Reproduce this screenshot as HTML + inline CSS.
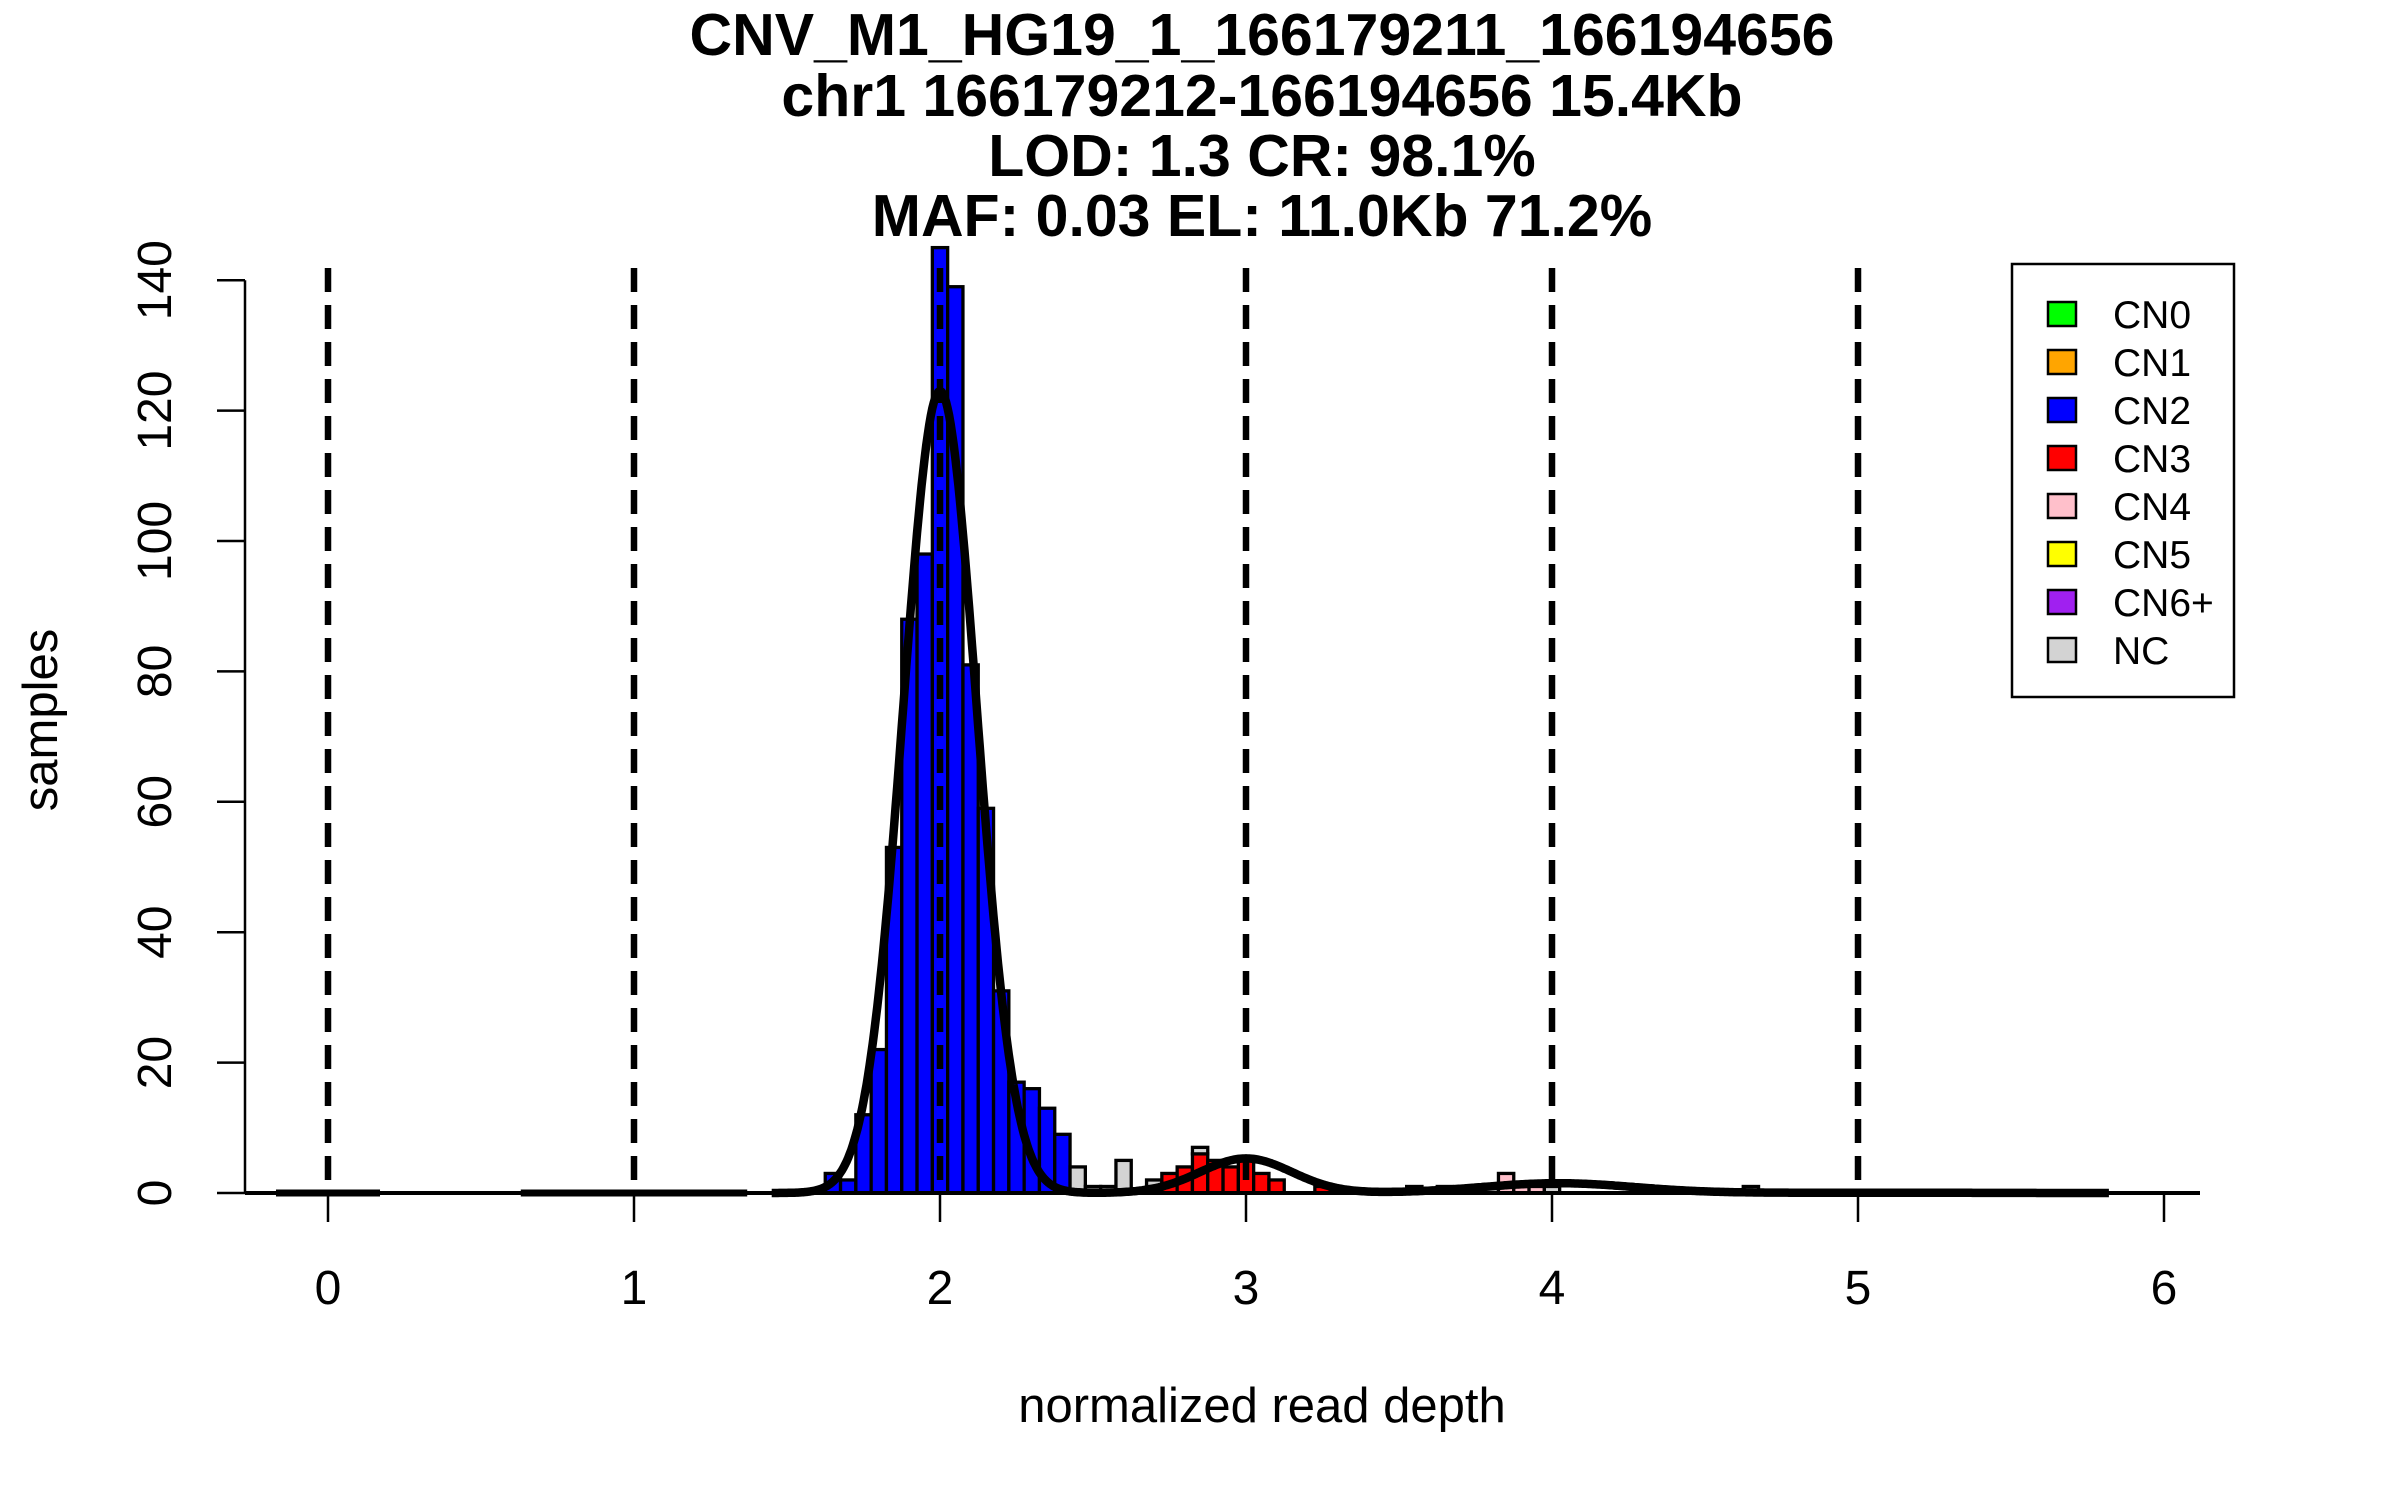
<!DOCTYPE html>
<html><head><meta charset="utf-8">
<style>
html,body{margin:0;padding:0;background:#fff;}
svg{display:block;font-family:"Liberation Sans",Arial,sans-serif;}
</style></head>
<body>
<svg id="chart" width="2400" height="1500" viewBox="0 0 2400 1500">
  <g font-weight="bold" font-size="59" text-anchor="middle" fill="#000">
    <text x="1262" y="55">CNV_M1_HG19_1_166179211_166194656</text>
    <text x="1262" y="116">chr1 166179212-166194656 15.4Kb</text>
    <text x="1262" y="176">LOD: 1.3 CR: 98.1%</text>
    <text x="1262" y="236">MAF: 0.03 EL: 11.0Kb 71.2%</text>
  </g>
  <g id="bars"></g>
  <g id="curves"></g>
  <g id="vlines"></g>
  <g id="axes"></g>
  <text x="1262" y="1422" font-size="49" text-anchor="middle">normalized read depth</text>
  <text transform="translate(57,720) rotate(-90)" font-size="49" text-anchor="middle">samples</text>
  <g>
    <rect x="2012" y="264" width="222" height="433" fill="#fff" stroke="#000" stroke-width="2.5"/>
    <g id="legend-items"></g>
  </g>
</svg>
<script>
// ---- data ----
const binLefts = [1.625,1.675,1.725,1.775,1.825,1.875,1.925,1.975,2.025,2.075,2.125,2.175,2.225,2.275,2.325,2.375,2.425,2.475,2.525,2.575,2.675,2.725,2.775,2.825,2.875,2.925,2.975,3.025,3.075,3.225,3.525,3.625,3.725,3.775,3.825,3.875,3.925,3.975,4.625];
const cn2Counts = [3,2,12,22,53,88,98,145,139,81,59,31,17,16,13,9,0,0,0,0,0,0,0,0,0,0,0,0,0,0,0,0,0,0,0,0,0,0,0];
const cn3Counts = [0,0,0,0,0,0,0,0,0,0,0,0,0,0,0,0,0,0,0,0,1,3,4,6,5,4,5,3,2,1,0,0,0,0,0,0,0,0,0];
const cn4Counts = [0,0,0,0,0,0,0,0,0,0,0,0,0,0,0,0,0,0,0,0,0,0,0,0,0,0,0,0,0,0,0,0,0,0,3,1,1,0,0];
const ncCounts  = [0,0,0,0,0,0,0,0,0,0,0,0,0,0,0,0,4,1,1,5,1,0,0,1,0,0,0,0,0,0,1,1,1,1,0,0,0,1,1];
const binWidth = 0.05;
const curveMeans = [2.0,3.0,4.02,5.0];
const curvePeaks = [123,5.3,1.5,0.05];
const curveSds = [0.12,0.15,0.25,0.3];
const flatCurveRanges = [[-0.17,0.17],[0.63,1.37]];
const mainCurveRange = [1.45,5.82];
const xTicks = [0,1,2,3,4,5,6];
const yTicks = [0,20,40,60,80,100,120,140];
const refLines = [0,1,2,3,4,5];
const legendLabels = ["CN0","CN1","CN2","CN3","CN4","CN5","CN6+","NC"];
const legendColors = ["#00ff00","#ffa500","#0000ff","#ff0000","#ffc0cb","#ffff00","#a020f0","#d3d3d3"];

// ---- scales ----
const X = v => 328 + 306*v;
const Y = c => 1193 - 6.52*c;
const NS = "http://www.w3.org/2000/svg";
function mk(tag, attrs, parent){const e=document.createElementNS(NS,tag);for(const k in attrs)e.setAttribute(k,attrs[k]);parent.appendChild(e);return e;}

// bars
const barsG = document.getElementById('bars');
binLefts.forEach((b,i)=>{
  let base = 0;
  const parts = [[cn2Counts[i],'#0000ff','cn2'],[cn3Counts[i],'#ff0000','cn3'],[cn4Counts[i],'#ffc0cb','cn4'],[ncCounts[i],'#d3d3d3','nc']];
  parts.forEach(p=>{
    if(p[0]>0){
      const r = mk('rect',{x:X(b),y:Y(base+p[0]),width:X(b+binWidth)-X(b),height:Y(base)-Y(base+p[0]),fill:p[1],stroke:'#000','stroke-width':3.3},barsG);
      
      
      base += p[0];
    }
  });
});

// curves
const curvesG = document.getElementById('curves');
flatCurveRanges.forEach(rg=>{
  const l = mk('line',{x1:X(rg[0]),y1:Y(0),x2:X(rg[1]),y2:Y(0),stroke:'#000','stroke-width':7},curvesG);
  
  
});
let pts=[];
for(let v=mainCurveRange[0]; v<=mainCurveRange[1]+1e-9; v+=0.005){
  let s=0;
  for(let k=0;k<curveMeans.length;k++){s+=curvePeaks[k]*Math.exp(-0.5*Math.pow((v-curveMeans[k])/curveSds[k],2));}
  pts.push(X(v).toFixed(1)+','+Y(s).toFixed(1));
}
const pl = mk('polyline',{points:pts.join(' '),fill:'none',stroke:'#000','stroke-width':8.5,'stroke-linejoin':'round'},curvesG);



// reference dashed lines
const vG = document.getElementById('vlines');
refLines.forEach(v=>{
  const l = mk('line',{x1:X(v),y1:268,x2:X(v),y2:Y(0),stroke:'#000','stroke-width':6.5,'stroke-dasharray':'24 13'},vG);
  
  
});

// axes
const aG = document.getElementById('axes');
const xa = mk('line',{x1:245,y1:Y(0),x2:2200,y2:Y(0),stroke:'#000','stroke-width':4},aG);


xTicks.forEach(t=>{
  const tk = mk('line',{x1:X(t),y1:Y(0),x2:X(t),y2:Y(0)+29,stroke:'#000','stroke-width':2.5},aG);
  
  
  const tx = mk('text',{x:X(t),y:1304,'font-size':48,'text-anchor':'middle'},aG);
  tx.textContent = t;
  
  
});
const ya = mk('line',{x1:245,y1:Y(0),x2:245,y2:Y(140),stroke:'#000','stroke-width':2.5},aG);


yTicks.forEach(t=>{
  const tk = mk('line',{x1:245,y1:Y(t),x2:217,y2:Y(t),stroke:'#000','stroke-width':2.5},aG);
  
  
  const tx = mk('text',{transform:'translate(171,'+Y(t)+') rotate(-90)','font-size':48,'text-anchor':'middle'},aG);
  tx.textContent = t;
  
  
});

// legend
const lG = document.getElementById('legend-items');
legendLabels.forEach((lab,i)=>{
  const cy = 314 + 48*i;
  const sw = mk('rect',{x:2048,y:cy-12,width:28,height:24,fill:legendColors[i],stroke:'#000','stroke-width':2.5},lG);
  
  
  const tx = mk('text',{x:2113,y:cy+14,'font-size':39},lG);
  tx.textContent = lab;
  
  
});
</script>
</body></html>
